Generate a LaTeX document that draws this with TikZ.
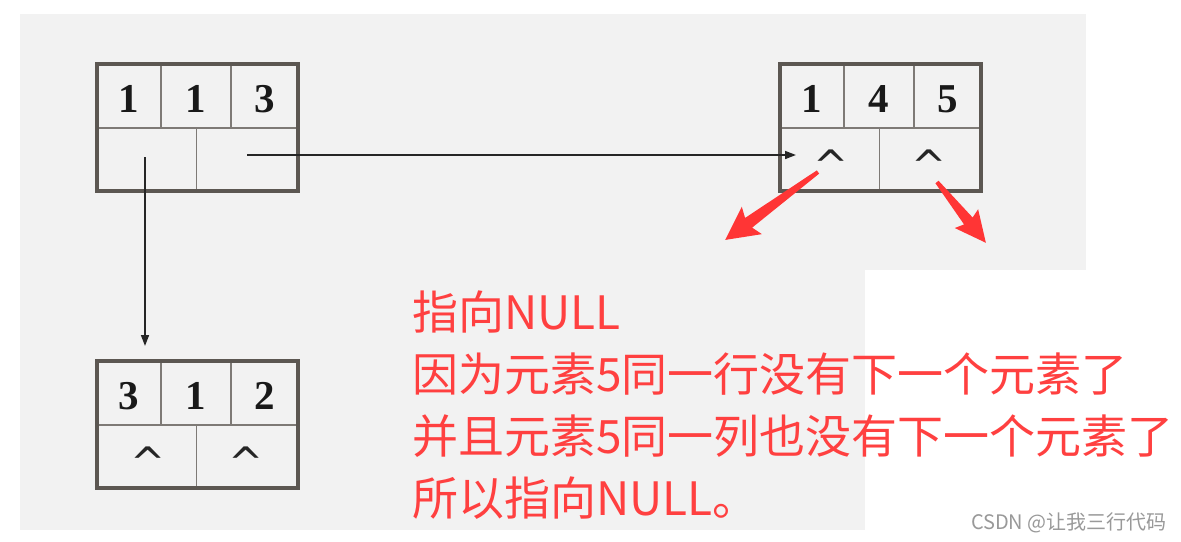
\documentclass[tikz,border=0pt]{standalone}
\usepackage{fontspec}
\setmainfont{Liberation Serif}
\newfontfamily\cjk{Noto Sans CJK SC}
\newfontfamily\caretfont{DejaVu Sans}
\usetikzlibrary{arrows.meta}
\definecolor{bggray}{HTML}{F2F2F2}
\definecolor{boxc}{HTML}{5C5752}
\definecolor{innerc}{HTML}{7E7A76}
\definecolor{notered}{HTML}{FF4040}
\definecolor{arrowred}{HTML}{FF3535}
\definecolor{wmgray}{HTML}{999999}
\newcommand\olbox[8]{%
  \begin{scope}[shift={(#2,#3)}]
    \draw[innerline] (0,64) -- (201,64);
    \draw[innerline] (64,0) -- (64,64);
    \draw[innerline] (134,0) -- (134,64);
    \draw[innerline] (99.5,64) -- (99.5,127);
    \draw[outerline] (0,0) rectangle (201,127);
    \node[digit] (#1-a) at (32,48) {#4};
    \node[digit] (#1-b) at (99,48) {#5};
    \node[digit] (#1-c) at (167.5,48) {#6};
    \node[caret] (#1-pt) at (51,86) {#7};
    \node[caret] (#1-qt) at (149,86) {#8};
    \coordinate (#1-p) at (48,93);
    \coordinate (#1-q) at (150,91);
  \end{scope}}
\begin{document}
\begin{tikzpicture}[x=1pt,y=-1pt,
  outerline/.style={draw=boxc, line width=3.2pt},
  innerline/.style={draw=innerc, line width=1.8pt},
  digit/.style={font=\bfseries\fontsize{41}{41}\selectfont, inner sep=0pt, anchor=base, text=black!90},
  caret/.style={font=\caretfont\fontsize{42}{42}\selectfont, inner sep=0pt, anchor=north, text=black!85},
  ptr/.style={line width=1.6pt, draw=black!85, -{Triangle[length=11pt,width=8pt]}},
  note/.style={font=\cjk\fontsize{46}{46}\selectfont, text=notered, anchor=base west, inner sep=0pt},
  fatarrow/.style={fill=arrowred, draw=none},
  wm/.style={font=\cjk\fontsize{20}{20}\selectfont, text=wmgray, anchor=base east, inner sep=0pt}
]
\useasboundingbox (0,0) rectangle (1181,541);
\fill[bggray] (20,14) rectangle (1086,530);
\fill[white] (865,270) rectangle (1086,530);

\olbox{b1}{97}{64}{1}{1}{3}{}{}
\olbox{b2}{780}{64}{1}{4}{5}{\textasciicircum}{\textasciicircum}
\olbox{b3}{97}{361}{3}{1}{2}{\textasciicircum}{\textasciicircum}

\coordinate (e1) at (145,346);
\coordinate (e2) at (796,155);
\draw[ptr] (b1-p) -- (e1);
\draw[ptr] (b1-q) -- (e2);

\begin{scope}[shift={(818,172)}, rotate=216.2]
  \fill[fatarrow] (0,-2) -- (86,-6) -- (82,-17) -- (115,0) -- (82,17) -- (86,6) -- (0,2) -- cycle;
\end{scope}
\begin{scope}[shift={(937,182)}, rotate=-51.2]
  \fill[fatarrow] (0,-2) -- (50,-5.5) -- (47,-15) -- (78,0) -- (47,15) -- (50,5.5) -- (0,2) -- cycle;
\end{scope}

\node[note] (t1) at (412,329) {指向NULL};
\node[note] (t2) at (412,391) {因为元素5同一行没有下一个元素了};
\node[note] (t3) at (412,453) {并且元素5同一列也没有下一个元素了};
\node[note] (t4) at (412,515) {所以指向NULL。};

\node[wm] (w) at (1167,529) {CSDN @让我三行代码};
\end{tikzpicture}
\end{document}
